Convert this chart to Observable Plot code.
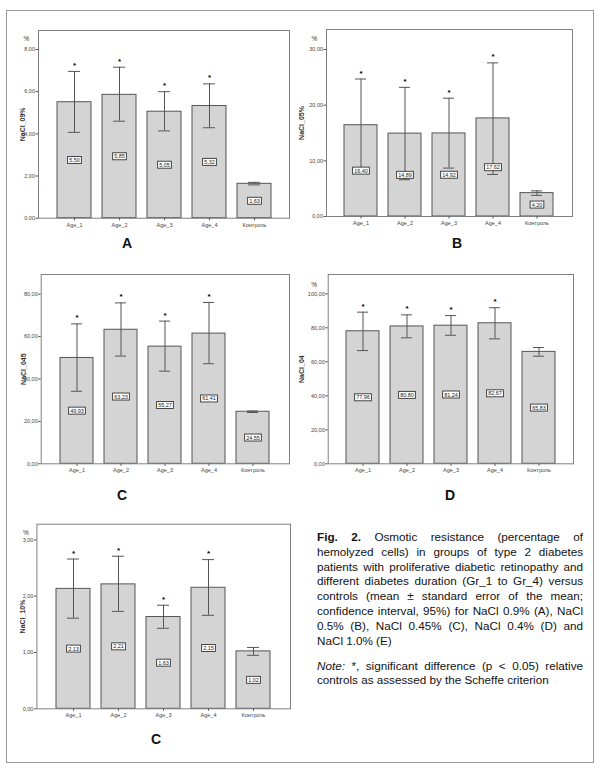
<!DOCTYPE html>
<html><head><meta charset="utf-8">
<script src="https://cdn.jsdelivr.net/npm/d3@7"></script>
<script src="https://cdn.jsdelivr.net/npm/@observablehq/plot@0.6"></script>
<style>
body{margin:0;background:#fff;font-family:"Liberation Sans",Arial,sans-serif;}
#fig{position:relative;width:600px;height:768px;overflow:hidden;}
.border{position:absolute;left:6px;top:10px;width:588px;height:753px;border:1px solid #9a9a9a;box-sizing:border-box;}
.panel{position:absolute;}
.plabel{position:absolute;font-weight:bold;font-size:14px;transform:translate(-50%,-50%);color:#111;}
.caption{position:absolute;left:317px;top:530px;width:266px;font-size:11.7px;line-height:14.8px;color:#111;}
.caption .j{text-align:justify;text-align-last:justify;white-space:nowrap;}
.caption .l{white-space:nowrap;}
</style></head><body><div id="fig"><div class="border"></div></div>
<script>
const groups = ["Age_1", "Age_2", "Age_3", "Age_4", "Контроль"];
const sigFlags = [true, true, true, true, false];

// Panel A: NaCl 0.9%
const meanA = [5.50, 5.85, 5.05, 5.32, 1.63];
const loA = [4.07, 4.60, 4.14, 4.29, 1.58];
const hiA = [6.96, 7.16, 6.00, 6.37, 1.70];
const ticksA = [0, 2, 4, 6, 8];

// Panel B: NaCl 0.5%
const meanB = [16.40, 14.89, 14.92, 17.62, 4.20];
const loB = [8.10, 6.60, 8.70, 7.55, 3.80];
const hiB = [24.70, 23.20, 21.25, 27.60, 4.60];
const ticksB = [0, 10, 20, 30];

// Panel C: NaCl 0.45%
const meanC = [49.93, 63.23, 55.27, 61.41, 24.55];
const loC = [34.2, 50.8, 43.7, 47.2, 24.2];
const hiC = [66.0, 75.9, 67.3, 76.1, 24.9];
const ticksC = [0, 20, 40, 60, 80];

// Panel D: NaCl 0.4%
const meanD = [77.96, 80.80, 81.24, 82.67, 65.83];
const loD = [66.6, 74.1, 75.6, 73.5, 63.3];
const hiD = [89.2, 87.6, 87.2, 91.8, 68.4];
const ticksD = [0, 20, 40, 60, 80, 100];

// Panel E: NaCl 1.0%
const meanE = [2.13, 2.21, 1.63, 2.15, 1.02];
const loE = [1.61, 1.73, 1.43, 1.66, 0.95];
const hiE = [2.66, 2.71, 1.84, 2.65, 1.09];
const ticksE = [0, 1, 2, 3];

const yTitles = ["NaCl_09%", "NaCl_05%", "NaCl_045", "NaCl_04", "NaCl_10%"];
const panelLetters = ["A", "B", "C", "D", "C"];

const panels = [
  {mean: meanA, lo: loA, hi: hiA, ticks: ticksA, title: yTitles[0], letter: panelLetters[0], pct: true,
   left: 0, top: 0, w: 295, h: 250, ml: 38, mr: 6, mt: 30, mb: 32.3, inset: 19, tdx: -16, pdx: -12, pdy: 8, lx: 127, ly: 243},
  {mean: meanB, lo: loB, hi: hiB, ticks: ticksB, title: yTitles[1], letter: panelLetters[1], pct: true,
   left: 295, top: 0, w: 300, h: 250, ml: 31, mr: 23, mt: 29, mb: 34, inset: 20, tdx: -25, pdx: -12, pdy: 9, lx: 457, ly: 243},
  {mean: meanC, lo: loC, hi: hiC, ticks: ticksC, title: yTitles[2], letter: panelLetters[2], pct: false,
   left: 0, top: 250, w: 295, h: 250, ml: 40.7, mr: 6, mt: 24, mb: 36.7, inset: 19.7, tdx: -17, pdx: -12, pdy: 9, lx: 122, ly: 495},
  {mean: meanD, lo: loD, hi: hiD, ticks: ticksD, title: yTitles[3], letter: panelLetters[3], pct: true,
   left: 295, top: 250, w: 300, h: 250, ml: 32.7, mr: 22, mt: 24, mb: 36.7, inset: 19.3, tdx: -26, pdx: -14, pdy: 10, lx: 450, ly: 495},
  {mean: meanE, lo: loE, hi: hiE, ticks: ticksE, title: yTitles[4], letter: panelLetters[4], pct: true,
   left: 0, top: 500, w: 295, h: 230, ml: 36.4, mr: 5, mt: 23.7, mb: 21.7, inset: 15.7, tdx: -14, pdx: -11, pdy: 9, lx: 156, ly: 739}
];

const fmt = v => d3.format(".2f")(v).replace(".", ",");
const fig = document.getElementById("fig");
const FONT = "Liberation Sans, Arial, sans-serif";

panels.forEach(p => {
  const data = groups.map((g, i) => ({g, mean: p.mean[i], lo: p.lo[i], hi: p.hi[i], sig: sigFlags[i]}));
  const chart = Plot.plot({
    width: p.w, height: p.h,
    marginLeft: p.ml, marginRight: p.mr, marginTop: p.mt, marginBottom: p.mb,
    style: {fontFamily: FONT, fontSize: "5.5px", color: "#444", background: "transparent", overflow: "visible"},
    x: {domain: groups, paddingInner: 0.245, paddingOuter: 0.39, label: null},
    y: {domain: [0, p.ticks[p.ticks.length - 1]], insetTop: p.inset, label: null},
    marks: [
      Plot.barY(data, {x: "g", y: "mean", fill: "#d4d4d4", stroke: "#555", strokeWidth: 1}),
      Plot.ruleX(data, {x: "g", y1: "lo", y2: "hi", stroke: "#555", strokeWidth: 1}),
      Plot.tickY(data, {x: "g", y: "hi", stroke: "#555", strokeWidth: 1, insetLeft: 11, insetRight: 11}),
      Plot.tickY(data, {x: "g", y: "lo", stroke: "#555", strokeWidth: 1, insetLeft: 11, insetRight: 11}),
      Plot.text(data, {x: "g", y: d => d.mean / 2, text: d => fmt(d.mean), fontSize: 5.5, fill: "#222", className: "vlabel"}),
      Plot.text(data.filter(d => d.sig), {x: "g", y: "hi", text: () => "*", dy: -6, fontSize: 8, fontWeight: "bold", fill: "#000"}),
      Plot.frame({stroke: "#808080", strokeWidth: 1}),
      Plot.axisY({ticks: p.ticks, tickFormat: fmt, tickSize: 2.5, tickPadding: 1, label: null, fontSize: 5.5, stroke: "#555"}),
      Plot.axisX({tickSize: 2.5, tickPadding: 2, label: null, fontSize: 5.5, stroke: "#555"}),
      Plot.text([p.title], {frameAnchor: "left", text: d => d, rotate: -90, dx: p.tdx, fontSize: 7, fontWeight: "bold", fill: "#333", textAnchor: "middle", lineAnchor: "middle"}),
      p.pct ? Plot.text(["%"], {frameAnchor: "top-left", text: d => d, dx: p.pdx, dy: p.pdy, fontSize: 6.5, fill: "#333", textAnchor: "middle", lineAnchor: "middle"}) : null
    ]
  });
  const wrap = document.createElement("div");
  wrap.className = "panel";
  wrap.style.left = p.left + "px";
  wrap.style.top = p.top + "px";
  wrap.appendChild(chart);
  fig.appendChild(wrap);

  // boxes behind value labels
  d3.select(chart).selectAll("g.vlabel text").each(function () {
    const b = this.getBBox();
    const parent = this.parentNode;
    const r = document.createElementNS("http://www.w3.org/2000/svg", "rect");
    r.setAttribute("x", b.x - 1.5);
    r.setAttribute("y", b.y - 0.5);
    r.setAttribute("width", b.width + 3);
    r.setAttribute("height", b.height + 1);
    r.setAttribute("fill", "#fff");
    r.setAttribute("stroke", "#333");
    r.setAttribute("stroke-width", "0.9");
    const t = this.getAttribute("transform");
    if (t) r.setAttribute("transform", t);
    parent.insertBefore(r, this);
  });

  const lab = document.createElement("div");
  lab.className = "plabel";
  lab.style.left = p.lx + "px";
  lab.style.top = p.ly + "px";
  lab.textContent = p.letter;
  fig.appendChild(lab);
});

const cap = document.createElement("div");
cap.className = "caption";
cap.innerHTML = `
<div class="j"><b>Fig. 2.</b> Osmotic resistance (percentage of</div>
<div class="j">hemolyzed cells) in groups of type 2 diabetes</div>
<div class="j">patients with proliferative diabetic retinopathy and</div>
<div class="j">different diabetes duration (Gr_1 to Gr_4) versus</div>
<div class="j">controls (mean ± standard error of the mean;</div>
<div class="j">confidence interval, 95%) for NaCl 0.9% (A), NaCl</div>
<div class="j">0.5% (B), NaCl 0.45% (C), NaCl 0.4% (D) and</div>
<div class="l">NaCl 1.0% (E)</div>
<div class="j" style="margin-top:10.2px"><i>Note:</i> *, significant difference (p &lt; 0.05) relative</div>
<div class="l">controls as assessed by the Scheffe criterion</div>`;
fig.appendChild(cap);
</script>
</body></html>
